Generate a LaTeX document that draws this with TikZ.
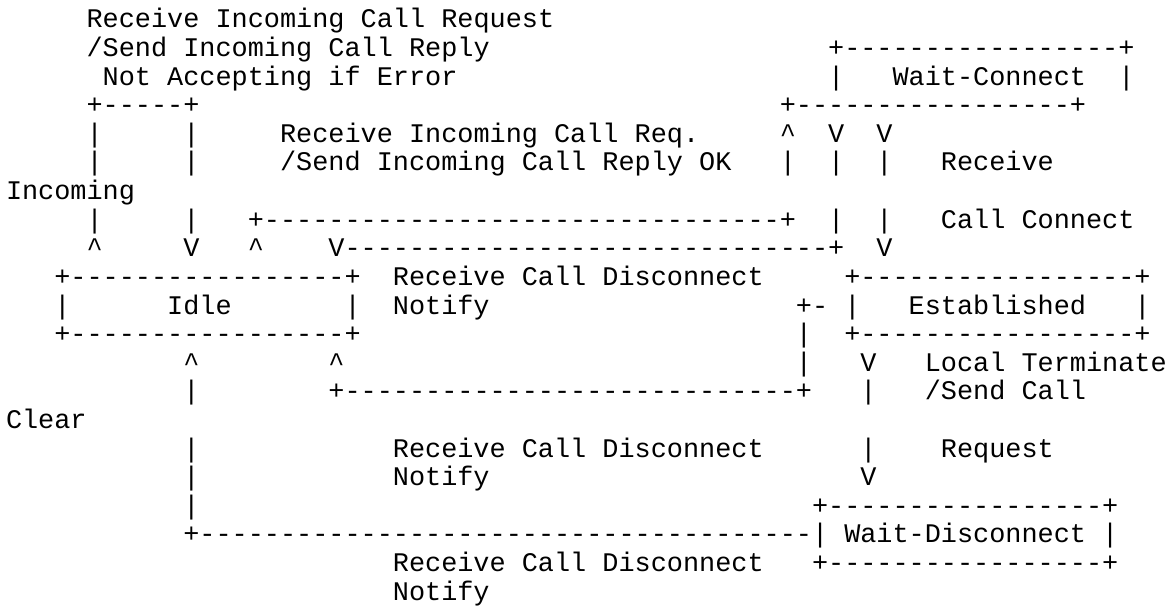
\documentclass[tikz,border=0pt]{standalone}
\usepackage{fontspec}
\setmonofont{Liberation Mono}
\ExplSyntaxOn
\NewDocumentCommand\mydashes{m}{\prg_replicate:nn{#1}{-}}
\ExplSyntaxOff
\newcommand\asciibox{+\mydashes{17}+}
\tikzset{
  txt/.style={anchor=base west, inner sep=0pt, outer sep=0pt, text=black,
    font=\ttfamily\fontsize{26.87}{28.6}\selectfont}
}
% \ch{name}{line}{column}{text}
\newcommand\ch[4]{\node[txt] (#1) at ({6+#3*16.12},{-28-(#2-1)*28.6}) {#4};}
\begin{document}
\begin{tikzpicture}[x=1pt,y=1pt]
\path[use as bounding box, fill=white] (0,0) rectangle (1175,-607);
% line 1
\ch{a1}{1}{5}{Receive Incoming Call Request}
% line 2
\ch{a2}{2}{5}{/Send Incoming Call Reply}
\ch{wcTop}{2}{51}{\asciibox}
% line 3
\ch{a3}{3}{6}{Not Accepting if Error}
\ch{wcL}{3}{51}{|}
\ch{wc}{3}{55}{Wait-Connect}
\ch{wcR}{3}{69}{|}
% line 4
\ch{loopTop}{4}{5}{+\mydashes{5}+}
\ch{wcBot}{4}{48}{\asciibox}
% line 5
\ch{l5a}{5}{5}{|}
\ch{l5b}{5}{11}{|}
\ch{b1}{5}{17}{Receive Incoming Call Req.}
\ch{l5c}{5}{48}{\textasciicircum}
\ch{l5d}{5}{51}{V}
\ch{l5e}{5}{54}{V}
% line 6
\ch{l6a}{6}{5}{|}
\ch{l6b}{6}{11}{|}
\ch{b2}{6}{17}{/Send Incoming Call Reply OK}
\ch{l6c}{6}{48}{|}
\ch{l6d}{6}{51}{|}
\ch{l6e}{6}{54}{|}
\ch{c1}{6}{58}{Receive}
% line 7
\ch{inc}{7}{0}{Incoming}
% line 8
\ch{l8a}{8}{5}{|}
\ch{l8b}{8}{11}{|}
\ch{l8c}{8}{15}{+\mydashes{32}+}
\ch{l8d}{8}{51}{|}
\ch{l8e}{8}{54}{|}
\ch{c2}{8}{58}{Call Connect}
% line 9
\ch{l9a}{9}{5}{\textasciicircum}
\ch{l9b}{9}{11}{V}
\ch{l9c}{9}{15}{\textasciicircum}
\ch{l9d}{9}{20}{V\mydashes{30}+}
\ch{l9e}{9}{54}{V}
% line 10
\ch{idleTop}{10}{3}{\asciibox}
\ch{d1}{10}{24}{Receive Call Disconnect}
\ch{estTop}{10}{52}{\asciibox}
% line 11
\ch{idleL}{11}{3}{|}
\ch{idle}{11}{10}{Idle}
\ch{idleR}{11}{21}{|}
\ch{d2}{11}{24}{Notify}
\ch{l11a}{11}{49}{+-}
\ch{estL}{11}{52}{|}
\ch{est}{11}{56}{Established}
\ch{estR}{11}{70}{|}
% line 12
\ch{idleBot}{12}{3}{\asciibox}
\ch{l12a}{12}{49}{|}
\ch{estBot}{12}{52}{\asciibox}
% line 13
\ch{l13a}{13}{11}{\textasciicircum}
\ch{l13b}{13}{20}{\textasciicircum}
\ch{l13c}{13}{49}{|}
\ch{l13d}{13}{53}{V}
\ch{e1}{13}{57}{Local Terminate}
% line 14
\ch{l14a}{14}{11}{|}
\ch{l14b}{14}{20}{+\mydashes{28}+}
\ch{l14c}{14}{53}{|}
\ch{e2}{14}{57}{/Send Call}
% line 15
\ch{clr}{15}{0}{Clear}
% line 16
\ch{l16a}{16}{11}{|}
\ch{f1}{16}{24}{Receive Call Disconnect}
\ch{l16b}{16}{53}{|}
\ch{e3}{16}{58}{Request}
% line 17
\ch{l17a}{17}{11}{|}
\ch{f2}{17}{24}{Notify}
\ch{l17b}{17}{53}{V}
% line 18
\ch{l18a}{18}{11}{|}
\ch{wdTop}{18}{50}{\asciibox}
% line 19
\ch{l19a}{19}{11}{+\mydashes{38}}
\ch{wdL}{19}{50}{|}
\ch{wd}{19}{52}{Wait-Disconnect}
\ch{wdR}{19}{68}{|}
% line 20
\ch{g1}{20}{24}{Receive Call Disconnect}
\ch{wdBot}{20}{50}{\asciibox}
% line 21
\ch{g2}{21}{24}{Notify}
\end{tikzpicture}
\end{document}
